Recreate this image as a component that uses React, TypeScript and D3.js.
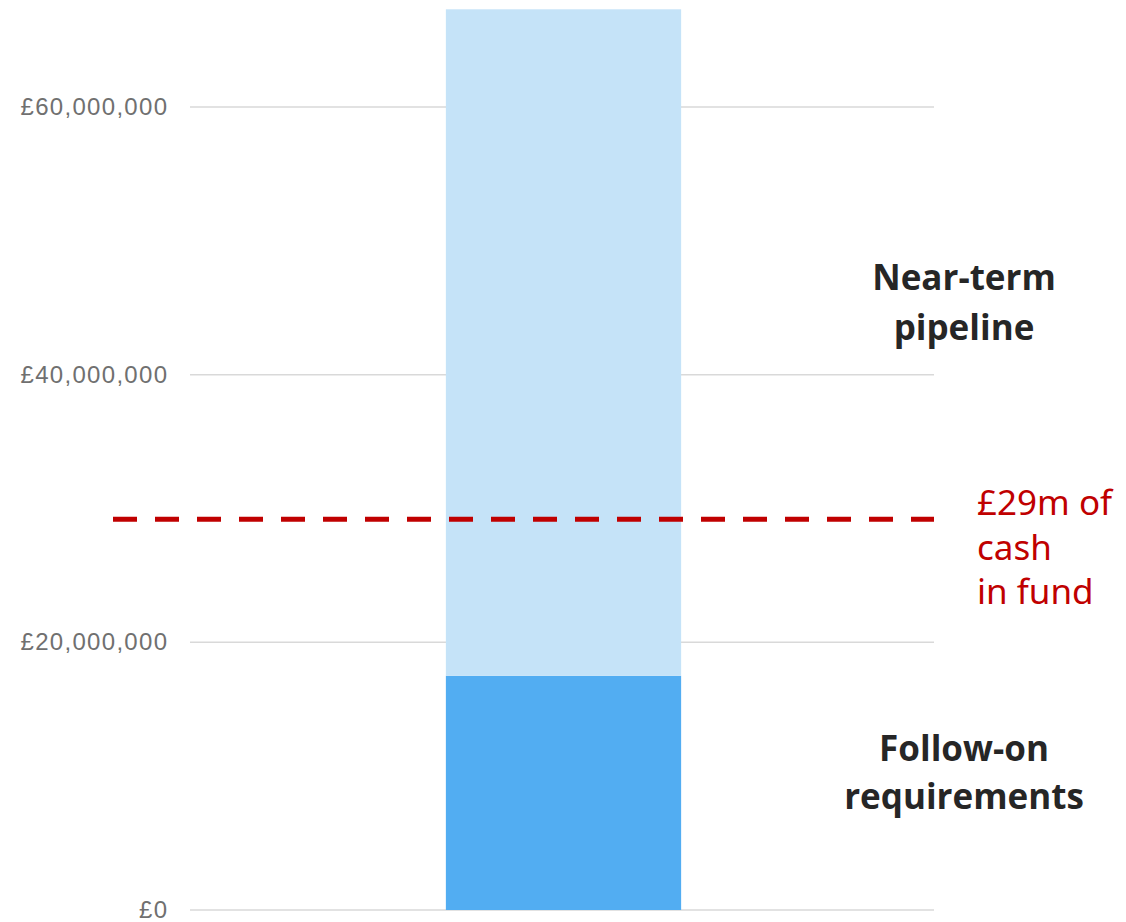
import React from "react";
import * as d3 from "d3";

const categories = ["Fund"];
const followOn = [17.5e6];
const nearTerm = [49.8e6];
const cashInFund = 29.2e6;
const yTicks = [0, 20e6, 40e6, 60e6];
const cashLabel = ["£29m of", "cash", "in fund"];
const nearLabel = ["Near-term", "pipeline"];
const followLabel = ["Follow-on", "requirements"];

const W = 1126;
const H = 922;

export default function App() {
  const y = d3.scaleLinear().domain([0, 60e6]).range([910, 107]);
  const x = d3.scaleBand<string>().domain(categories).range([191, 936]).padding(0.52);
  const fmt = (v: number) => "£" + d3.format(",")(v);

  const stack = categories.map((c, i) => ({
    c,
    segs: [
      { y0: 0, y1: followOn[i], fill: "#52adf2" },
      { y0: followOn[i], y1: followOn[i] + nearTerm[i], fill: "#c5e3f8" },
    ],
  }));

  return (
    <svg width={W} height={H} style={{ position: "absolute", left: 0, top: 0, background: "#fff" }}>
      {yTicks.map((t) => (
        <g key={t}>
          <line x1={190} x2={934} y1={y(t)} y2={y(t)} stroke="#d9d9d9" strokeWidth={1.5} />
          <text
            x={168.3}
            y={y(t) + 8}
            textAnchor="end"
            fontFamily="'Liberation Sans', Arial, sans-serif"
            fontSize={24}
            letterSpacing={1.3}
            fill="#707070"
          >
            {fmt(t)}
          </text>
        </g>
      ))}
      {stack.map((s) =>
        s.segs.map((seg, j) => (
          <rect
            key={s.c + j}
            x={x(s.c)}
            width={x.bandwidth()}
            y={y(seg.y1)}
            height={y(seg.y0) - y(seg.y1)}
            fill={seg.fill}
          />
        ))
      )}
      <line
        x1={113}
        x2={934}
        y1={y(cashInFund)}
        y2={y(cashInFund)}
        stroke="#c00000"
        strokeWidth={5}
        strokeDasharray="24 18"
      />
      <text fontFamily="'Noto Sans', sans-serif" fontSize={35} fill="#c00000">
        {cashLabel.map((l, i) => (
          <tspan key={l} x={977} y={515 + i * 44.5}>
            {l}
          </tspan>
        ))}
      </text>
      <text fontFamily="'Open Sans', sans-serif" fontWeight="bold" fontSize={35} fill="#262626" textAnchor="middle">
        {nearLabel.map((l, i) => (
          <tspan key={l} x={964} y={290 + i * 50}>
            {l}
          </tspan>
        ))}
      </text>
      <text fontFamily="'Open Sans', sans-serif" fontWeight="bold" fontSize={35} fill="#262626" textAnchor="middle">
        {followLabel.map((l, i) => (
          <tspan key={l} x={964} y={761 + i * 48}>
            {l}
          </tspan>
        ))}
      </text>
    </svg>
  );
}
